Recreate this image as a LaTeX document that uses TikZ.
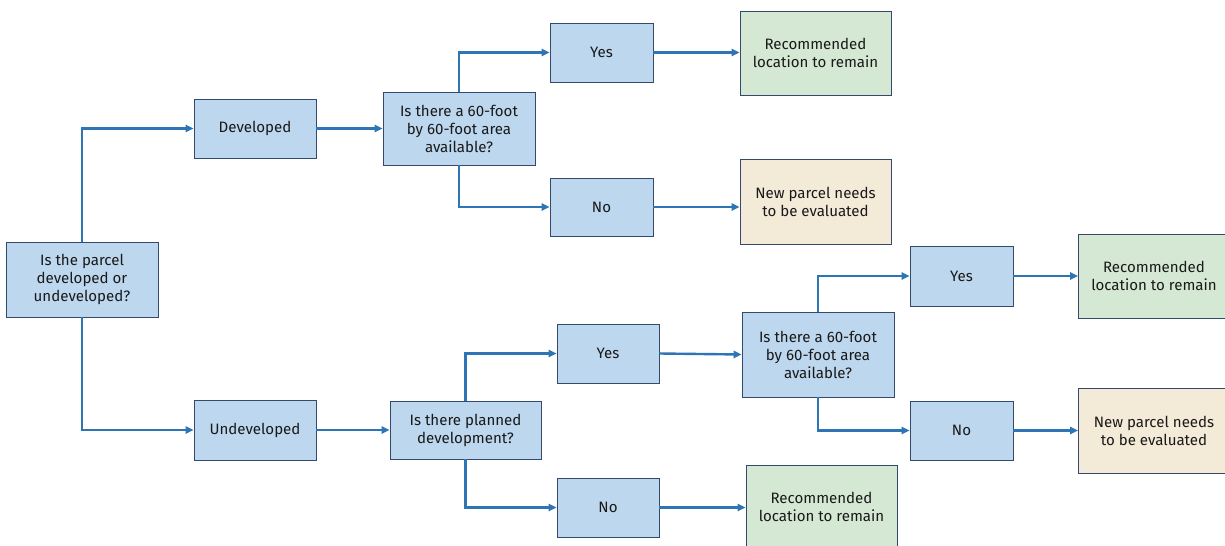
\documentclass[tikz,border=0pt]{standalone}
\usepackage{fontspec}
\setmainfont{Fira Sans}
\usetikzlibrary{arrows.meta}
\definecolor{boxblue}{HTML}{BDD7EE}
\definecolor{boxgreen}{HTML}{D5E8D4}
\definecolor{boxbeige}{HTML}{F4EAD8}
\definecolor{boxline}{HTML}{34496B}
\definecolor{arrowblue}{HTML}{2E75B6}
\tikzset{
  box/.style={draw=boxline, line width=0.7pt, fill=boxblue, align=center, inner sep=0pt,
    font=\fontsize{11.3}{13.5}\selectfont, text=black!90},
  greenbox/.style={box, fill=boxgreen},
  beigebox/.style={box, fill=boxbeige},
  conn/.style={draw=arrowblue, line width=1.8pt, -{Triangle[length=6pt,width=5.5pt]}},
}
\begin{document}
\begin{tikzpicture}[x=0.75pt,y=-0.75pt]
\useasboundingbox (0,0) rectangle (1225,546);
\node[box, minimum width=114pt, minimum height=56.25pt] (root) at (82,279.5) {Is the parcel\\developed or\\undeveloped?};
\node[box, minimum width=91.5pt, minimum height=44.25pt] (dev) at (255,128.5) {Developed};
\node[box, minimum width=91.5pt, minimum height=45pt] (undev) at (255,430) {Undeveloped};
\node[box, minimum width=114pt, minimum height=54.75pt] (q1) at (459,128.5) {Is there a 60-foot\\by 60-foot area\\available?};
\node[box, minimum width=77.25pt, minimum height=44.25pt] (yes1) at (601.5,52.5) {Yes};
\node[box, minimum width=77.25pt, minimum height=43.5pt] (no1) at (601.5,207) {No};
\node[greenbox, minimum width=113.25pt, minimum height=63pt] (rec1) at (815.5,53) {Recommended\\location to remain};
\node[beigebox, minimum width=113.25pt, minimum height=63.75pt] (new1) at (815.5,201.5) {New parcel needs\\to be evaluated};
\node[box, minimum width=113.25pt, minimum height=43.5pt] (q2) at (465.5,430) {Is there planned\\development?};
\node[box, minimum width=76.5pt, minimum height=44.25pt] (yes2) at (608,353.5) {Yes};
\node[box, minimum width=76.5pt, minimum height=44.25pt] (no2) at (608,507.5) {No};
\node[box, minimum width=114pt, minimum height=63.75pt] (q3) at (818,354.5) {Is there a 60-foot\\by 60-foot area\\available?};
\node[box, minimum width=77.25pt, minimum height=45pt] (yes3) at (961.5,276) {Yes};
\node[box, minimum width=77.25pt, minimum height=44.25pt] (no3) at (961.5,430.5) {No};
\node[greenbox, minimum width=113.25pt, minimum height=63pt] (rec3) at (1154,276) {Recommended\\location to remain};
\node[beigebox, minimum width=113.25pt, minimum height=63.75pt] (new3) at (1154,431) {New parcel needs\\to be evaluated};
\node[greenbox, minimum width=113.25pt, minimum height=63pt] (rec2) at (821.5,507) {Recommended\\location to remain};
% connectors
\draw[conn] (root.north) |- (dev.west);
\draw[conn] (root.south) |- (undev.west);
\draw[conn] (dev.east) -- (dev.east -| q1.west);
\draw[conn] (q1.north) |- (yes1.west);
\draw[conn] (q1.south) |- (no1.west);
\draw[conn] (yes1.east) -- (yes1.east -| rec1.west);
\draw[conn] (no1.east) -- (no1.east -| new1.west);
\draw[conn] (undev.east) -- (undev.east -| q2.west);
\draw[conn] (q2.north) |- (yes2.west);
\draw[conn] (q2.south) |- (no2.west);
\draw[conn] (yes2.east) -- (q3.west);
\draw[conn] (no2.east) -- (no2.east -| rec2.west);
\draw[conn] (q3.north) |- (yes3.west);
\draw[conn] (q3.south) |- (no3.west);
\draw[conn] (yes3.east) -- (yes3.east -| rec3.west);
\draw[conn] (no3.east) -- (no3.east -| new3.west);
\end{tikzpicture}
\end{document}
